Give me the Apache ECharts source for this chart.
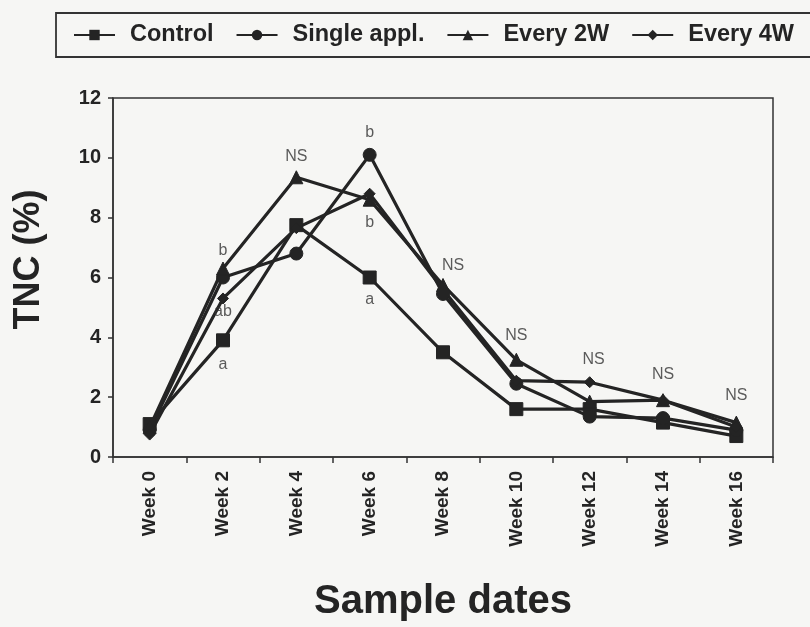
<!DOCTYPE html>
<html>
<head>
<meta charset="utf-8">
<script src="https://cdn.jsdelivr.net/npm/echarts@6/dist/echarts.min.js"></script>
<style>
html,body{margin:0;padding:0;background:#f6f6f4;}
#c{width:810px;height:627px;}
</style>
</head>
<body>
<div id="c"></div>
<script>
const categories = ['Week 0','Week 2','Week 4','Week 6','Week 8','Week 10','Week 12','Week 14','Week 16'];
const control   = [1.1, 3.9, 7.75, 6.0, 3.5, 1.6, 1.6, 1.15, 0.7];
const single    = [0.9, 6.0, 6.8, 10.1, 5.45, 2.45, 1.35, 1.3, 0.9];
const every2W   = [1.0, 6.3, 9.35, 8.6, 5.75, 3.25, 1.85, 1.9, 1.15];
const every4W   = [0.75, 5.3, 7.65, 8.8, 5.6, 2.55, 2.5, 1.9, 1.0];
const yTicks = { min: 0, max: 12, interval: 2 };
const annotText = ['b','ab','a','NS','b','b','a','NS','NS','NS','NS','NS'];
const annotCat  = [1, 1, 1, 2, 3, 3, 3, 4, 5, 6, 7, 8];
const annotY    = [6.9, 4.85, 3.1, 10.05, 10.85, 7.85, 5.25, 6.4, 4.05, 3.25, 2.75, 2.05];

const INK = '#242424';
const FONT = '"Liberation Sans", Arial, Helvetica, sans-serif';
const labelNudge = {7: [10, 0], 9: [4, 0]};

const chart = echarts.init(document.getElementById('c'), null, {renderer:'canvas'});

function lineSeries(name, data, symbol, size) {
  return {
    name, type:'line', data, symbol, symbolSize:size,
    showAllSymbol:true,
    lineStyle:{color:INK, width:3.2},
    itemStyle:{color:INK, borderColor:INK},
    z:3
  };
}

chart.setOption({
  animation:false,
  backgroundColor:'#f6f6f4',
  graphic:[{
    type:'rect', shape:{x:56, y:13, width:800, height:44},
    style:{fill:'none', stroke:'#333', lineWidth:1.8}, z:1
  }],
  legend:{
    data:['Control','Single appl.','Every 2W','Every 4W'],
    left:68, top:18,
    itemWidth:41, itemHeight:13, itemGap:22,
    textStyle:{fontFamily:FONT, fontWeight:'bold', fontSize:23.5, color:INK, padding:[0,0,0,10]}
  },
  grid:{left:113, right:37, top:98, bottom:170, show:true, borderColor:'#333', borderWidth:1.5, backgroundColor:'transparent'},
  xAxis:{
    type:'category', data:categories, boundaryGap:true,
    axisLine:{lineStyle:{color:'#333', width:1.5}},
    axisTick:{show:true, inside:false, length:6, lineStyle:{color:'#333', width:1.5}},
    axisLabel:{rotate:90, margin:14, fontFamily:FONT, fontWeight:'bold', fontSize:19, color:INK},
    splitLine:{show:false},
    name:'Sample dates', nameLocation:'middle', nameGap:125,
    nameTextStyle:{fontFamily:FONT, fontWeight:'bold', fontSize:40, color:INK}
  },
  yAxis:{
    type:'value', min:yTicks.min, max:yTicks.max, interval:yTicks.interval,
    axisLine:{show:true, lineStyle:{color:'#333', width:1.5}},
    axisTick:{show:true, inside:false, length:5, lineStyle:{color:'#333', width:1.5}},
    axisLabel:{margin:12, fontFamily:FONT, fontWeight:'bold', fontSize:20, color:INK},
    splitLine:{show:false},
    name:'TNC (%)', nameLocation:'middle', nameGap:66, nameRotate:90,
    nameTextStyle:{fontFamily:FONT, fontWeight:'bold', fontSize:36, color:INK, padding:[0,0,0,36]}
  },
  series:[
    lineSeries('Control', control, 'rect', 13),
    lineSeries('Single appl.', single, 'circle', 13),
    lineSeries('Every 2W', every2W, 'triangle', 13),
    lineSeries('Every 4W', every4W, 'diamond', 11),
    {
      name:'annot', type:'scatter', symbolSize:1, silent:true,
      itemStyle:{color:'rgba(0,0,0,0)'},
      data: annotText.map((t,i)=>({
        value:[annotCat[i], annotY[i]], name:t,
        label: labelNudge[i] ? {offset: labelNudge[i]} : undefined
      })),
      label:{show:true, position:'inside', formatter:p=>p.name,
        fontFamily:FONT, fontSize:16, color:'#333'},
      z:4
    }
  ]
});
</script>
</body>
</html>
